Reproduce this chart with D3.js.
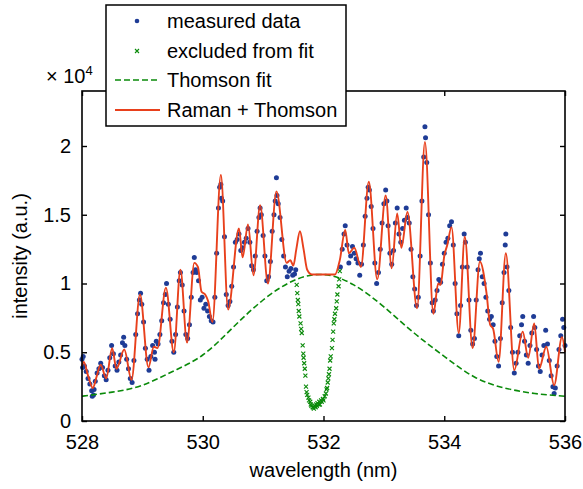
<!DOCTYPE html>
<html><head><meta charset="utf-8">
<script src="https://cdn.jsdelivr.net/npm/d3@7"></script>
<style>
body{margin:0;background:#fff}
svg{display:block}
text{font-family:"Liberation Sans",Arial,Helvetica,sans-serif;fill:#000}
</style></head>
<body><svg id="c" width="583" height="489"></svg>
<script>
// intensities in units of 1e4
const xTicks = [528, 530, 532, 534, 536];
const xTickLabels = ["528", "530", "532", "534", "536"];
const yTicks = [0, 0.5, 1, 1.5, 2];
const yTickLabels = ["0", "0.5", "1", "1.5", "2"];
const legendLabels = ["measured data", "excluded from fit", "Thomson fit", "Raman + Thomson"];

const thomsonX = [528.0, 528.5, 529.0, 529.5, 530.0, 530.5, 531.0, 531.5, 532.0, 532.5, 533.0, 533.5, 534.0, 534.5, 535.0, 535.5, 536.0];
const thomsonY = [0.18, 0.21, 0.26, 0.36, 0.48, 0.68, 0.88, 1.02, 1.065, 0.99, 0.83, 0.64, 0.47, 0.32, 0.24, 0.20, 0.18];

const fitX = [528.00, 528.03, 528.10, 528.18, 528.24, 528.31, 528.40, 528.50, 528.57, 528.70, 528.82, 528.96, 529.10, 529.19, 529.25, 529.39, 529.52, 529.63, 529.74, 529.86, 529.92, 529.98, 530.04, 530.09, 530.16, 530.30, 530.42, 530.60, 530.66, 530.75, 530.84, 530.95, 531.08, 531.22, 531.39, 531.45, 531.50, 531.55, 531.61, 531.67, 531.73, 531.81, 532.00, 532.19, 532.27, 532.36, 532.42, 532.51, 532.62, 532.75, 532.89, 533.03, 533.13, 533.22, 533.29, 533.39, 533.55, 533.68, 533.82, 533.90, 533.94, 534.00, 534.05, 534.12, 534.24, 534.34, 534.47, 534.59, 534.70, 534.76, 534.81, 534.90, 535.02, 535.16, 535.30, 535.39, 535.49, 535.57, 535.69, 535.82, 535.95, 536.00];
const fitY = [0.40, 0.43, 0.33, 0.24, 0.32, 0.41, 0.31, 0.53, 0.38, 0.52, 0.30, 0.92, 0.39, 0.54, 0.53, 0.97, 0.50, 1.10, 0.57, 1.15, 1.12, 0.94, 0.92, 0.87, 0.72, 1.79, 0.81, 1.40, 1.19, 1.43, 1.06, 1.57, 1.00, 1.67, 1.15, 1.17, 1.13, 1.25, 1.38, 1.25, 1.10, 1.065, 1.065, 1.065, 1.17, 1.39, 1.22, 1.26, 1.12, 1.74, 1.03, 1.64, 1.11, 1.51, 1.26, 1.52, 0.82, 2.03, 0.78, 1.00, 0.99, 1.20, 1.28, 1.41, 0.64, 1.34, 0.53, 1.16, 0.93, 0.70, 0.67, 0.43, 1.22, 0.37, 0.65, 0.46, 0.71, 0.38, 0.54, 0.26, 0.61, 0.50];

const measured = [
[528.00,0.45],[528.01,0.39],[528.02,0.47],[528.04,0.40],[528.07,0.36],[528.10,0.31],[528.13,0.27],[528.16,0.22],[528.17,0.18],[528.19,0.19],[528.20,0.23],[528.22,0.29],
[528.25,0.35],[528.28,0.38],[528.31,0.42],[528.34,0.39],[528.37,0.33],[528.40,0.30],[528.43,0.37],[528.46,0.46],[528.49,0.55],[528.52,0.49],
[528.55,0.40],[528.58,0.37],[528.61,0.43],[528.64,0.48],[528.67,0.57],[528.69,0.61],[528.71,0.55],[528.74,0.45],[528.77,0.38],[528.80,0.31],
[528.83,0.28],[528.86,0.44],[528.89,0.63],[528.92,0.78],[528.95,0.88],[528.97,0.93],[528.99,0.85],[529.02,0.72],[529.05,0.53],[529.08,0.45],
[529.11,0.37],[529.14,0.47],[529.17,0.55],[529.20,0.50],[529.21,0.45],[529.23,0.58],[529.26,0.56],[529.29,0.63],[529.32,0.73],[529.35,0.86],[529.38,0.92],
[529.40,1.00],[529.43,0.85],[529.46,0.74],[529.49,0.58],[529.52,0.50],[529.55,0.63],[529.58,0.83],[529.61,1.02],[529.63,1.08],[529.66,0.99],
[529.69,0.80],[529.72,0.63],[529.75,0.60],[529.78,0.70],[529.81,0.90],[529.84,1.08],[529.86,1.19],[529.88,1.10],[529.90,1.08],[529.93,1.02],
[529.96,0.88],[529.99,0.90],[530.02,0.82],[530.05,0.85],[530.08,0.80],[530.11,0.76],[530.14,0.73],[530.17,0.72],[530.20,0.90],[530.23,1.22],
[530.26,1.55],[530.28,1.70],[530.30,1.72],[530.31,1.62],[530.33,1.60],[530.36,1.34],[530.39,0.92],[530.42,0.84],[530.45,0.87],[530.48,0.98],
[530.51,1.12],[530.54,1.30],[530.57,1.32],[530.60,1.36],[530.63,1.24],[530.66,1.26],[530.69,1.30],[530.72,1.33],[530.75,1.40],[530.78,1.30],
[530.81,1.13],[530.84,1.10],[530.87,1.20],[530.90,1.38],[530.93,1.48],[530.95,1.55],[530.97,1.50],[531.00,1.35],[531.03,1.20],[531.06,1.02],
[531.09,1.05],[531.12,1.16],[531.15,1.38],[531.18,1.50],[531.20,1.60],[531.22,1.77],[531.23,1.64],[531.25,1.58],[531.28,1.48],[531.31,1.32],
[531.34,1.20],[531.37,1.12],[531.40,1.05],[531.43,1.09],[531.46,1.11],[531.49,1.06],[531.52,1.07],[531.54,1.10],
[532.28,1.12],[532.31,1.25],[532.34,1.36],[532.36,1.42],[532.39,1.28],[532.42,1.15],[532.45,1.20],[532.48,1.27],[532.51,1.22],[532.54,1.18],
[532.57,1.15],[532.60,1.06],[532.63,1.14],[532.66,1.28],[532.69,1.49],[532.72,1.62],[532.74,1.70],[532.76,1.68],[532.79,1.56],[532.82,1.40],
[532.85,1.15],[532.88,1.00],[532.91,1.08],[532.94,1.25],[532.97,1.44],[533.00,1.58],[533.03,1.68],[533.05,1.60],[533.07,1.42],[533.10,1.22],
[533.13,1.14],[533.16,1.24],[533.19,1.44],[533.22,1.55],[533.25,1.36],[533.28,1.30],[533.31,1.40],[533.34,1.46],[533.37,1.55],[533.39,1.48],
[533.42,1.44],[533.45,1.25],[533.48,1.05],[533.51,0.96],[533.54,0.84],[533.57,0.90],[533.60,1.20],[533.63,1.60],[533.66,1.92],[533.68,2.14],
[533.69,2.06],[533.71,1.88],[533.74,1.50],[533.77,1.15],[533.80,0.86],[533.82,0.80],[533.85,0.88],[533.88,0.95],[533.91,1.03],[533.94,1.01],
[533.97,1.14],[534.00,1.22],[534.03,1.30],[534.06,1.33],[534.09,1.42],[534.12,1.45],[534.15,1.28],[534.18,1.00],[534.21,0.78],[534.24,0.62],
[534.27,0.84],[534.30,1.12],[534.33,1.36],[534.35,1.30],[534.38,1.12],[534.41,0.88],[534.44,0.66],[534.47,0.56],[534.50,0.60],[534.53,0.88],
[534.56,1.10],[534.58,1.18],[534.60,1.22],[534.63,1.05],[534.66,1.00],[534.69,0.90],[534.72,0.80],[534.75,0.74],[534.78,0.76],[534.81,0.70],
[534.84,0.58],[534.87,0.47],[534.90,0.40],[534.93,0.60],[534.96,0.86],[534.99,1.08],[535.01,1.28],[535.02,1.36],[535.04,1.12],[535.07,0.95],
[535.10,0.68],[535.13,0.50],[535.16,0.35],[535.19,0.42],[535.22,0.50],[535.25,0.62],[535.28,0.70],[535.30,0.76],[535.33,0.58],[535.36,0.48],
[535.39,0.42],[535.42,0.55],[535.45,0.64],[535.48,0.76],[535.50,0.68],[535.53,0.52],[535.56,0.40],[535.59,0.36],[535.62,0.48],[535.65,0.55],
[535.68,0.66],[535.71,0.56],[535.74,0.44],[535.77,0.33],[535.80,0.25],[535.82,0.20],[535.84,0.24],[535.87,0.40],[535.90,0.52],[535.93,0.62],
[535.96,0.74],[535.98,0.68],[536.00,0.55]
];

const excluded = [
[531.556,0.99],[531.566,0.93],[531.575,0.88],[531.583,0.85],[531.59,0.80],[531.60,0.76],[531.62,0.71],[531.63,0.67],[531.64,0.64],[531.655,0.55],
[531.665,0.49],[531.67,0.46],[531.68,0.42],[531.69,0.38],[531.70,0.33],[531.71,0.25],[531.72,0.21],[531.73,0.19],[531.75,0.17],[531.76,0.15],
[531.78,0.14],[531.79,0.12],[531.80,0.11],[531.82,0.10],[531.83,0.10],[531.84,0.09],[531.86,0.11],[531.87,0.10],[531.88,0.12],[531.89,0.11],
[531.90,0.13],[531.92,0.12],[531.93,0.14],[531.94,0.12],[531.96,0.15],[531.97,0.14],[531.99,0.16],[532.00,0.15],[532.02,0.18],[532.04,0.20],
[532.05,0.23],[532.06,0.24],[532.07,0.28],[532.08,0.31],[532.09,0.34],[532.10,0.38],[532.11,0.44],[532.12,0.47],[532.14,0.53],[532.15,0.59],
[532.16,0.65],[532.17,0.71],[532.18,0.74],[532.19,0.78],[532.21,0.82],[532.22,0.87],[532.23,0.92],[532.25,0.98],[532.26,1.03],[532.27,1.09]
];

const m = {left: 82, right: 565, top: 91, bottom: 421};
const svg = d3.select("#c");
const x = d3.scaleLinear().domain([528, 536]).range([m.left, m.right]);
const y = d3.scaleLinear().domain([0, 2.4]).range([m.bottom, m.top]);

const BLUE = "#1f3c96", GREEN = "#0a8a0a", RED = "#e8401c";

const plot = svg.append("g");
plot.selectAll("circle.meas").data(measured).join("circle")
  .attr("class", "meas").attr("cx", d => x(d[0])).attr("cy", d => y(d[1]))
  .attr("r", 2.5).attr("fill", BLUE);

const xm = 2;
plot.selectAll("path.exc").data(excluded).join("path")
  .attr("class", "exc")
  .attr("d", d => { const cx = x(d[0]), cy = y(d[1]);
    return `M${cx-xm},${cy-xm}L${cx+xm},${cy+xm}M${cx-xm},${cy+xm}L${cx+xm},${cy-xm}`; })
  .attr("stroke", GREEN).attr("stroke-width", 1.1).attr("fill", "none");

const thom = thomsonX.map((v, i) => [v, thomsonY[i]]);
plot.append("path").datum(thom)
  .attr("d", d3.line().x(d => x(d[0])).y(d => y(d[1])).curve(d3.curveNatural))
  .attr("fill", "none").attr("stroke", GREEN).attr("stroke-width", 1.6).attr("stroke-dasharray", "6,3");

const fit = fitX.map((v, i) => [v, fitY[i]]);
plot.append("path").datum(fit)
  .attr("d", d3.line().x(d => x(d[0])).y(d => y(d[1])).curve(d3.curveMonotoneX))
  .attr("fill", "none").attr("stroke", RED).attr("stroke-width", 1.9).attr("stroke-linejoin", "round");

const fontSize = 20;
const axB = svg.append("g").attr("transform", `translate(0,${m.bottom})`)
  .call(d3.axisBottom(x).tickValues(xTicks).tickFormat((d, i) => xTickLabels[i]).tickSize(-5).tickSizeOuter(0).tickPadding(14));
const axT = svg.append("g").attr("transform", `translate(0,${m.top})`)
  .call(d3.axisTop(x).tickValues(xTicks).tickFormat("").tickSize(-5).tickSizeOuter(0));
const axL = svg.append("g").attr("transform", `translate(${m.left},0)`)
  .call(d3.axisLeft(y).tickValues(yTicks).tickFormat((d, i) => yTickLabels[i]).tickSize(-5).tickSizeOuter(0).tickPadding(11));
const axR = svg.append("g").attr("transform", `translate(${m.right},0)`)
  .call(d3.axisRight(y).tickValues(yTicks).tickFormat("").tickSize(-5).tickSizeOuter(0));
[axB, axT, axL, axR].forEach(a => {
  a.select(".domain").remove();
  a.selectAll("line").attr("stroke", "#000").attr("stroke-width", 1.4);
  a.selectAll("text").attr("font-size", fontSize).attr("font-family", '"Liberation Sans", Arial, sans-serif').attr("fill", "#000");
});
svg.append("rect").attr("x", m.left).attr("y", m.top).attr("width", m.right - m.left).attr("height", m.bottom - m.top)
  .attr("fill", "none").attr("stroke", "#000").attr("stroke-width", 1.6);

svg.append("text").attr("x", (m.left + m.right) / 2).attr("y", 477).attr("text-anchor", "middle")
  .attr("font-size", fontSize).text("wavelength (nm)");
svg.append("text").attr("transform", `translate(27,${(m.top + m.bottom) / 2}) rotate(-90)`).attr("text-anchor", "middle")
  .attr("font-size", fontSize).text("intensity (a.u.)");
const ex = svg.append("text").attr("x", 46).attr("y", 83).attr("font-size", fontSize);
ex.append("tspan").text("\u00d7 10");
ex.append("tspan").attr("font-size", 13).attr("dy", -8).text("4");

const lg = svg.append("g");
lg.append("rect").attr("x", 106).attr("y", 5).attr("width", 240).attr("height", 121)
  .attr("fill", "#fff").attr("stroke", "#000").attr("stroke-width", 1.5);
const rowY = [21, 51, 80, 110];
lg.append("circle").attr("cx", 137).attr("cy", rowY[0]).attr("r", 2.3).attr("fill", BLUE);
lg.append("path").attr("d", `M${137-xm},${rowY[1]-xm}L${137+xm},${rowY[1]+xm}M${137-xm},${rowY[1]+xm}L${137+xm},${rowY[1]-xm}`)
  .attr("stroke", GREEN).attr("stroke-width", 1.1);
lg.append("line").attr("x1", 115).attr("x2", 158).attr("y1", rowY[2]).attr("y2", rowY[2])
  .attr("stroke", GREEN).attr("stroke-width", 1.6).attr("stroke-dasharray", "6,3");
lg.append("line").attr("x1", 115).attr("x2", 160).attr("y1", rowY[3]).attr("y2", rowY[3])
  .attr("stroke", RED).attr("stroke-width", 1.9);
lg.selectAll("text.lt").data(legendLabels).join("text").attr("class", "lt")
  .attr("x", 167).attr("y", (d, i) => rowY[i] + 7).attr("font-size", fontSize).text(d => d);
</script>
</body></html>
